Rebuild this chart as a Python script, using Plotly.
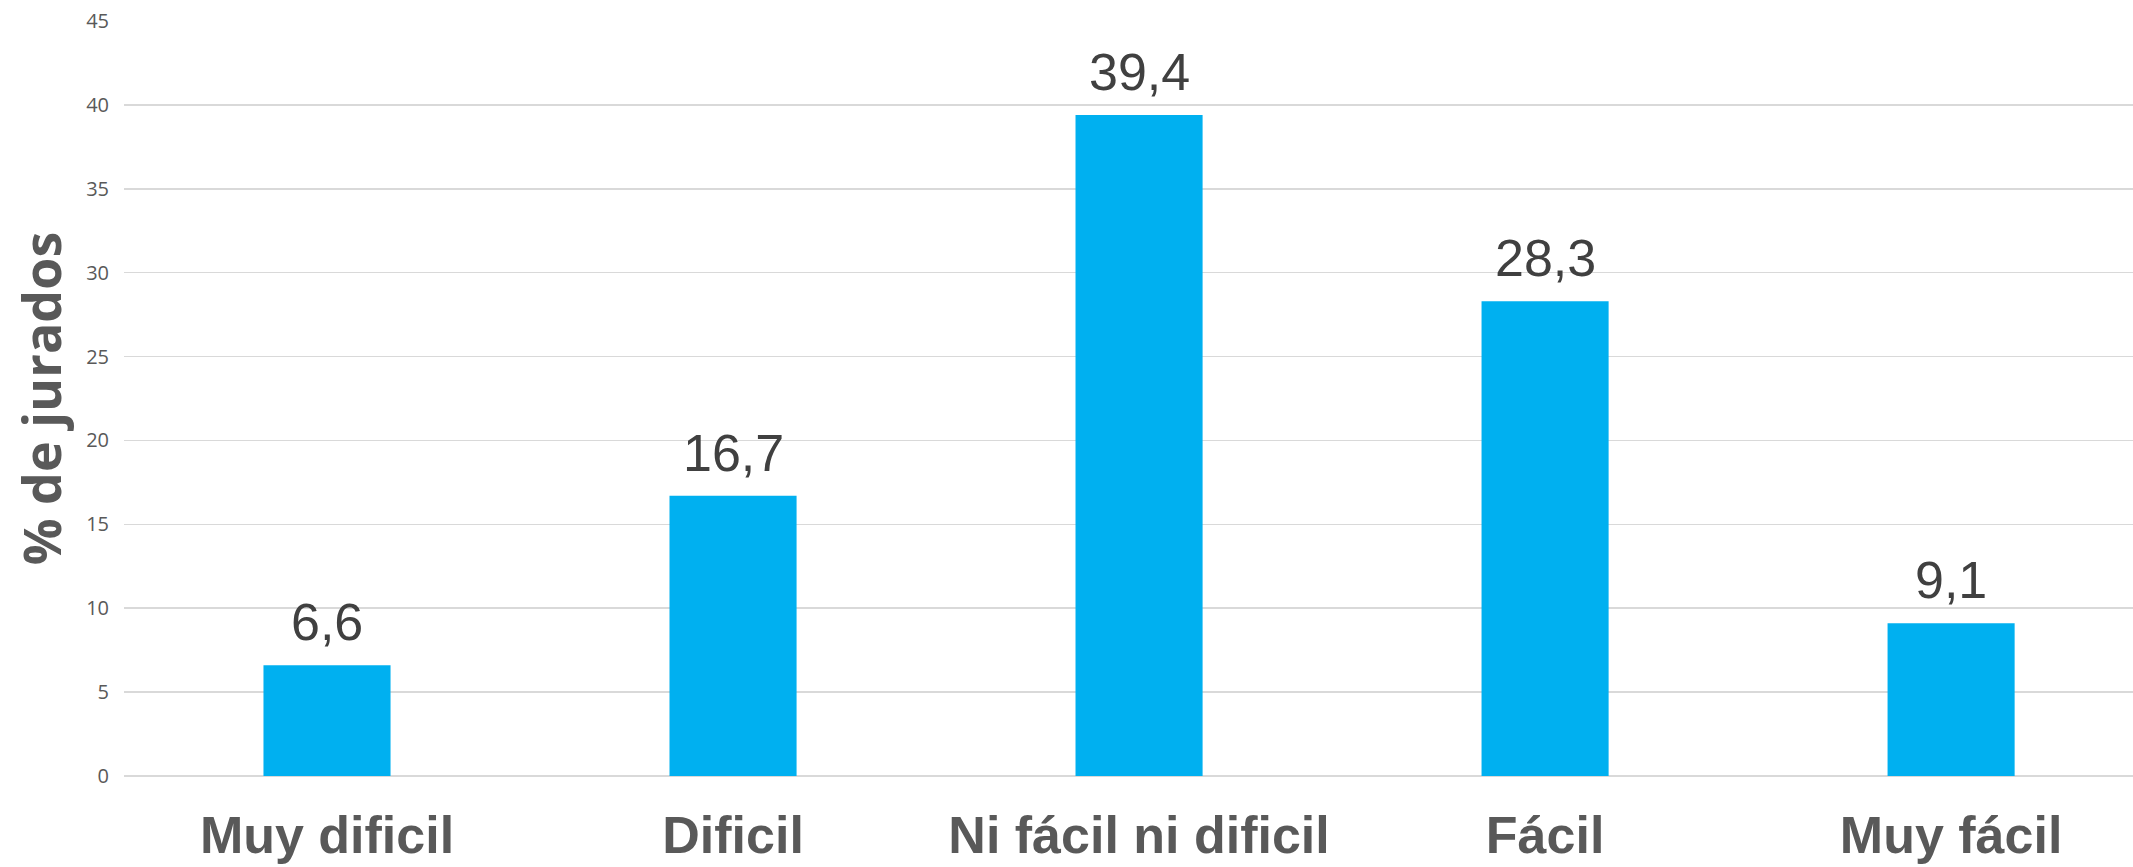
import plotly.graph_objects as go

categories = ["Muy dificil", "Dificil", "Ni fácil ni dificil", "Fácil", "Muy fácil"]
values = [6.6, 16.7, 39.4, 28.3, 9.1]
y_ticks = [0, 5, 10, 15, 20, 25, 30, 35, 40, 45]
y_title = "% de jurados"

labels = [f"{v:.1f}".replace(".", ",") for v in values]

fig = go.Figure()
fig.add_trace(go.Bar(
    x=categories, y=values,
    marker=dict(color="#00B0F0", line=dict(width=0)),
    width=0.313,
    hoverinfo="skip",
))

for c, v, t in zip(categories, values, labels):
    fig.add_annotation(
        x=c, y=v, text=t, showarrow=False, yanchor="bottom", yshift=12,
        font=dict(family="Liberation Sans, Arial", size=52, color="#404040"),
    )

fig.update_layout(
    width=2133, height=867,
    margin=dict(l=124, r=0, t=21, b=91, pad=0, autoexpand=False),
    paper_bgcolor="white", plot_bgcolor="white",
    showlegend=False,
    bargap=0.5,
)
fig.update_xaxes(
    range=[-0.5, 4.448], automargin=False,
    showgrid=False, showline=False, zeroline=False,
    ticks="", ticklabelstandoff=24,
    tickfont=dict(family="Liberation Sans, Arial", size=52, color="#595959", weight="bold"),
)
fig.update_yaxes(
    range=[0, 45], automargin=False,
    tickvals=y_ticks, ticktext=[str(v) for v in y_ticks],
    showgrid=True, gridcolor="#D9D9D9", gridwidth=1.5,
    zeroline=True, zerolinecolor="#D9D9D9", zerolinewidth=1.5,
    showline=False, ticks="", ticklabelstandoff=14,
    tickfont=dict(family="Open Sans", size=20, color="#595959"),
    title=dict(text=y_title, standoff=7,
               font=dict(family="Open Sans", size=52, color="#595959", weight="bold")),
)

fig.write_html(
    "out.html",
    config={"displayModeBar": False, "staticPlot": True},
    post_script="document.body.style.margin='0';document.body.style.overflow='hidden';",
)
